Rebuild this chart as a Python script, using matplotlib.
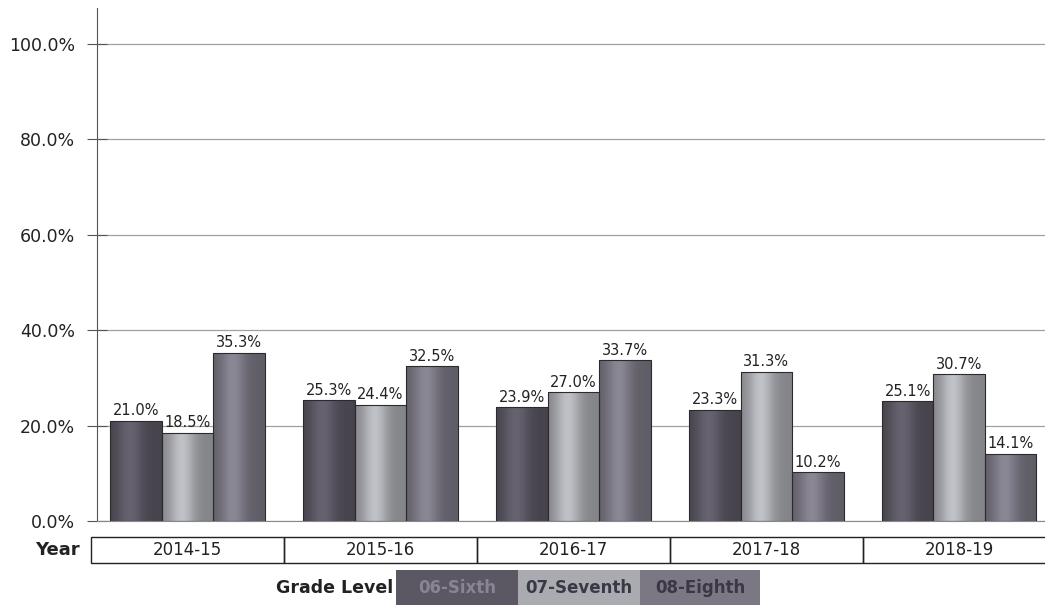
import numpy as np
import matplotlib
matplotlib.use("Agg")
import matplotlib.pyplot as plt
from matplotlib.patches import Rectangle
import matplotlib.transforms as mtransforms
from matplotlib.colors import to_rgb

years = ["2014-15", "2015-16", "2016-17", "2017-18", "2018-19"]
series_names = ["06-Sixth", "07-Seventh", "08-Eighth"]
sixth = [21.0, 25.3, 23.9, 23.3, 25.1]
seventh = [18.5, 24.4, 27.0, 31.3, 30.7]
eighth = [35.3, 32.5, 33.7, 10.2, 14.1]
yticks = [0, 20, 40, 60, 80, 100]

colors = ["#5b5763", "#a9abb0", "#7b7884"]

fig = plt.figure(figsize=(10.45, 6.1), dpi=100)
ax = fig.add_axes([97/1045, 89/610, 948/1045, 513/610])

def shade(ax, patch, base):
    b = np.array(to_rgb(base))
    t = np.linspace(0, 1, 64)
    prof = 0.78 + 0.35*np.exp(-((t-0.38)/0.25)**2)
    rgb = np.clip(b[None, :]*prof[:, None], 0, 1)
    img = rgb[None, :, :]
    x0, y0 = patch.get_x(), patch.get_y()
    w, h = patch.get_width(), patch.get_height()
    im = ax.imshow(img, extent=[x0, x0+w, y0, y0+h], aspect='auto', zorder=2,
                   interpolation='bilinear')
    im.set_clip_path(patch)

x = np.arange(len(years))
w = 0.267
data = [sixth, seventh, eighth]
for i, (vals, c) in enumerate(zip(data, colors)):
    bars = ax.bar(x + (i-1)*w, vals, width=w, color=c, edgecolor="#2a2a30",
                  linewidth=0.8, zorder=3)
    for b, v in zip(bars, vals):
        b.set_facecolor("none")
        shade(ax, b, c)
        ax.text(b.get_x()+b.get_width()/2, v + 0.5, f"{v:.1f}%", ha="center",
                va="bottom", fontsize=10.5, color="#222222", zorder=4)

ax.set_xlim(-0.47, 4.445)
ax.set_ylim(0, 107.5)
ax.set_yticks(yticks)
ax.set_yticklabels([f"{t:.1f}%" for t in yticks], fontsize=12.5, color="#222222")
ax.set_xticks([])
ax.grid(axis="y", color="#a0a0a0", linewidth=0.9, zorder=0)
ax.set_axisbelow(True)
for s in ["top", "right"]:
    ax.spines[s].set_visible(False)
ax.spines["left"].set_color("#555555")
ax.spines["bottom"].set_color("#888888")
ax.tick_params(axis="y", length=14, color="#555555", direction="inout", pad=9)

# Year table
tr = mtransforms.blended_transform_factory(ax.transData, ax.transAxes)
y0 = (521-563)/513
yh = (563-537)/513
for i, yr in enumerate(years):
    ax.add_patch(Rectangle((i-0.5, y0), 1.0, yh, transform=tr, fill=False,
                           edgecolor="#222222", linewidth=1.0, clip_on=False))
    ax.text(i, y0+yh/2, yr, transform=tr, ha="center", va="center",
            fontsize=12, color="#222222")
fig.text(80/1045, 1-550/610, "Year", ha="right", va="center",
         fontsize=13, fontweight="bold", color="#222222")

# Legend
fig.text(393/1045, 1-588/610, "Grade Level", ha="right", va="center",
         fontsize=12.5, fontweight="bold", color="#222222")
lx = [396, 518, 640]
lw = [122, 122, 120]
txtcol = ["#8a8494", "#3a3844", "#3a3844"]
for xx, ww, c, n, tc in zip(lx, lw, colors, series_names, txtcol):
    fig.patches.append(Rectangle((xx/1045, 5/610), ww/1045, 35/610,
                                 transform=fig.transFigure, facecolor=c,
                                 edgecolor="none"))
    fig.text((xx+ww/2)/1045, 1-588/610, n, ha="center", va="center",
             fontsize=12, fontweight="bold", color=tc)

fig.savefig("out.png", dpi=100)
